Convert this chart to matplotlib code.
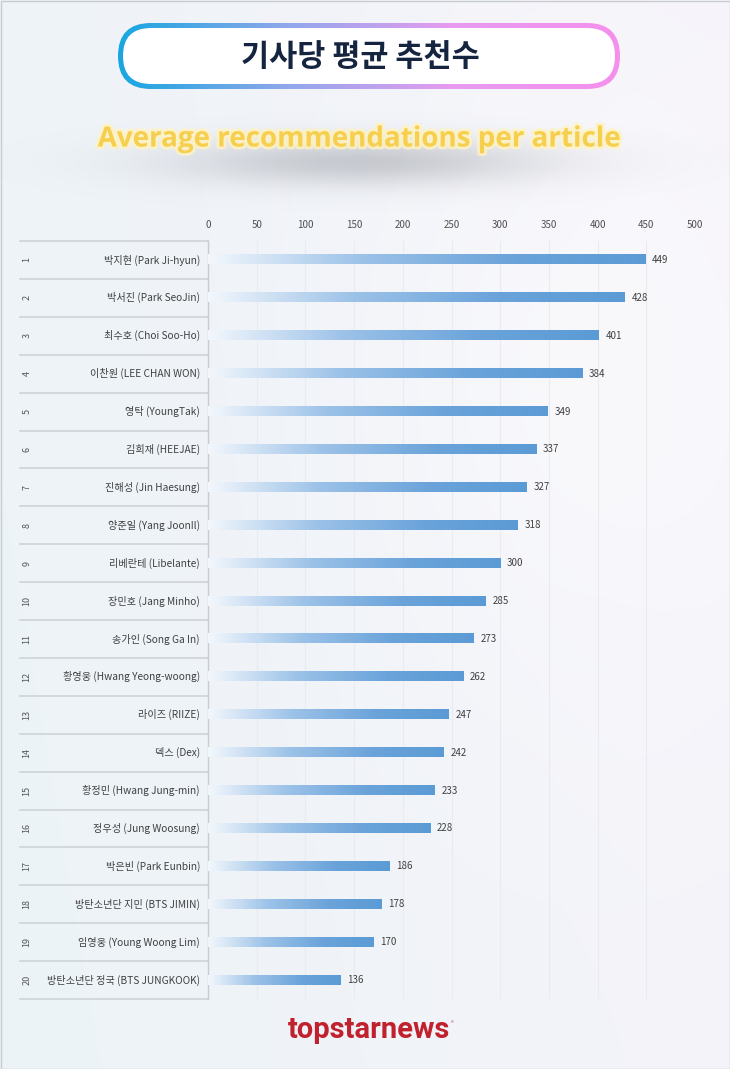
import matplotlib
matplotlib.use("Agg")
import matplotlib.pyplot as plt
import numpy as np
from matplotlib.colors import LinearSegmentedColormap
from matplotlib.patches import FancyBboxPatch
import matplotlib.patheffects as pe

KR = ["Noto Sans CJK KR", "DejaVu Sans"]
plt.rcParams["font.family"] = KR

ranks = list(range(1, 21))
names = [
    "박지현 (Park Ji-hyun)", "박서진 (Park SeoJin)", "최수호 (Choi Soo-Ho)",
    "이찬원 (LEE CHAN WON)", "영탁 (YoungTak)", "김희재 (HEEJAE)",
    "진해성 (Jin Haesung)", "양준일 (Yang JoonIl)", "리베란테 (Libelante)",
    "장민호 (Jang Minho)", "송가인 (Song Ga In)", "황영웅 (Hwang Yeong-woong)",
    "라이즈 (RIIZE)", "덱스 (Dex)", "황정민 (Hwang Jung-min)",
    "정우성 (Jung Woosung)", "박은빈 (Park Eunbin)", "방탄소년단 지민 (BTS JIMIN)",
    "임영웅 (Young Woong Lim)", "방탄소년단 정국 (BTS JUNGKOOK)",
]
values = [449, 428, 401, 384, 349, 337, 327, 318, 300, 285,
          273, 262, 247, 242, 233, 228, 186, 178, 170, 136]
xticks = [0, 50, 100, 150, 200, 250, 300, 350, 400, 450, 500]

title_kr = "기사당 평균 추천수"
title_en = "Average recommendations per article"
logo = "topstarnews"

W, H = 730, 1069
fig = plt.figure(figsize=(W / 100, H / 100), dpi=100)

# background canvas in pixel coords
bg = fig.add_axes([0, 0, 1, 1])
bg.set_xlim(0, W)
bg.set_ylim(H, 0)
bg.axis("off")
GX, GY = np.meshgrid(np.linspace(0, 1, 300), np.linspace(0, 1, 400))
c_left = np.array([0.925, 0.955, 0.970])
c_right = np.array([0.965, 0.955, 0.980])
t = np.clip(GX * 0.8 + (1 - GY) * 0.2, 0, 1)[..., None]
bg_img = c_left * (1 - t) + c_right * t
# soft white glow, upper right
px, py = GX * W, GY * H
d = ((px - 600) / 260) ** 2 + ((py - 380) / 420) ** 2
glow = 0.45 * np.exp(-d * 1.5)[..., None]
bg_img = bg_img * (1 - glow) + glow
bg.imshow(bg_img, extent=[0, W, H, 0], aspect="auto", zorder=0, interpolation="bilinear")

# outer border
bg.add_patch(plt.Rectangle((0.5, 0.5), W - 1, H - 1, fill=False, ec="#c8ccd0", lw=1.0, zorder=5))

# title box with gradient border
outer = FancyBboxPatch((118, 23), 502, 66, boxstyle="round,pad=0,rounding_size=33",
                       fc="none", ec="none", zorder=2)
bg.add_patch(outer)
grad = LinearSegmentedColormap.from_list("tb", ["#18a6e0", "#8fa8ea", "#e79bf0", "#f590ec"])
gim = bg.imshow(np.linspace(0, 1, 256)[None, :], cmap=grad, extent=[118, 620, 89, 23],
                aspect="auto", zorder=2)
gim.set_clip_path(outer)
bg.add_patch(FancyBboxPatch((123, 28), 492, 56, boxstyle="round,pad=0,rounding_size=28",
                            fc="white", ec="none", zorder=3))
bg.text(360, 57, title_kr, ha="center", va="center", fontsize=22, fontweight="bold",
        color="#15243f", family=KR, zorder=4)

# subtitle blurred shadow
SX, SY = np.meshgrid(np.linspace(0, W, 365), np.linspace(95, 230, 135))
sd = ((SX - 362) / 215) ** 2 + ((SY - 162) / 28) ** 2
shadow = np.zeros(SX.shape + (4,))
shadow[..., :3] = [0.45, 0.47, 0.50]
shadow[..., 3] = 0.34 * np.exp(-sd * 1.4)
bg.imshow(shadow, extent=[0, W, 230, 95], aspect="auto", zorder=2, interpolation="bilinear")
bg.text(359, 139, title_en, ha="center", va="center", fontsize=20, fontweight="bold",
        color="#f7cf4e", family=["Open Sans", "DejaVu Sans"], zorder=4,
        path_effects=[pe.withStroke(linewidth=4, foreground="#fff3c0", alpha=0.8)])

# logo
bg.text(369, 1030, logo, ha="center", va="center", fontsize=21, fontweight="bold",
        color="#c0212d", family=["Roboto", "DejaVu Sans"], zorder=4)
bg.text(452, 1024, "®", ha="center", va="center", fontsize=4, color="#c0212d", zorder=4)

# chart
left, right, top, bottom = 208, 695, 241, 999
ax = fig.add_axes([left / W, 1 - bottom / H, (right - left) / W, (bottom - top) / H])
ax.set_facecolor("none")
n = len(values)
bar_cmap = LinearSegmentedColormap.from_list(
    "bar", [(0, "#f3f7fc"), (0.35, "#9cc2e8"), (0.7, "#6aa3da"), (1, "#5b9bd5")])
ramp = np.linspace(0, 1, 256)[None, :]
for i, v in enumerate(values):
    ax.imshow(ramp, cmap=bar_cmap, extent=[0, v, i + 0.12, i - 0.12], aspect="auto",
              zorder=3, interpolation="bilinear")
    ax.text(v + 7, i, str(v), ha="left", va="center", fontsize=7, color="#404040", zorder=4)
ax.set_xlim(0, 500)
ax.set_ylim(19.5, -0.5)
for x in xticks:
    ax.axvline(x, color="#e9ebf0", lw=0.8, zorder=1)
ax.xaxis.tick_top()
ax.set_xticks(xticks)
ax.set_xticklabels([str(x) for x in xticks], fontsize=7, color="#505050")
ax.tick_params(axis="x", length=0, pad=8)
ax.set_yticks([])
for s in ["top", "right", "bottom"]:
    ax.spines[s].set_visible(False)
ax.spines["left"].set_color("#c8ccd2")
ax.spines["left"].set_linewidth(1.0)

# label table (pixel coords on bg)
row_h = (bottom - top) / n
for i in range(n + 1):
    y = top + i * row_h
    bg.plot([20, left], [y, y], color="#cfd3d8", lw=1.2, zorder=3)
for i, (r, nm) in enumerate(zip(ranks, names)):
    yc = top + (i + 0.5) * row_h
    bg.text(27, yc, str(r), rotation=90, ha="center", va="center", fontsize=6.5,
            color="#555555", zorder=4)
    bg.text(200, yc, nm, ha="right", va="center", fontsize=7.3, color="#404040",
            family=KR, zorder=4)

fig.savefig("out.png", dpi=100)
